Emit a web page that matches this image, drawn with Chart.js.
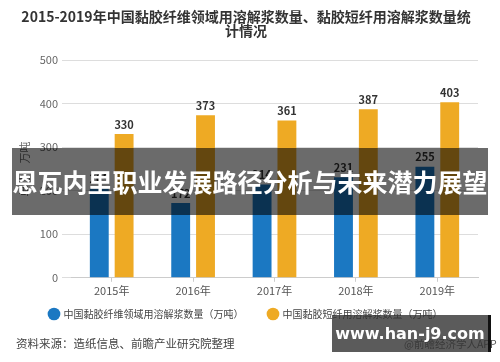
<!DOCTYPE html>
<html lang="zh">
<head>
  <meta charset="UTF-8" />
  <title>2015-2019年中国黏胶纤维领域用溶解浆数量</title>
  <script src="https://cdn.jsdelivr.net/npm/chart.js"></script>
  <style>
    body { margin: 0; background: #fff; font-family: "Noto Sans CJK SC", sans-serif; }
    .wrap { position: relative; width: 500px; height: 362px; overflow: hidden; }
    canvas { position: absolute; left: 0; top: 0; }
    .source { position: absolute; left: 16px; top: 335px; font-size: 11.5px; color: #444; }
    .app { position: absolute; left: 404px; top: 336px; font-size: 10.5px; color: #555; }
    .banner { position: absolute; left: 12px; top: 148px; width: 476px; height: 67px;
      background: rgba(0,0,0,0.58); color: #fff; font-weight: bold; font-size: 25px;
      line-height: 67px; text-align: center; white-space: nowrap; }
    .mark { position: absolute; left: 332px; top: 315px; width: 156px; height: 37px;
      background: rgba(50,50,50,0.8); border-right: 3px solid #111; color: #fff;
      font-family: "DejaVu Sans", sans-serif; font-weight: bold; font-size: 16px;
      line-height: 37px; text-align: center; }
  </style>
</head>
<body>
<div class="wrap">
  <canvas id="chart" width="500" height="362"></canvas>
  <div class="source">资料来源：造纸信息、前瞻产业研究院整理</div>
  <div class="app">@前瞻经济学人APP</div>
  <div class="banner">恩瓦内里职业发展路径分析与未来潜力展望</div>
  <div class="mark">www.han-j9.com</div>
</div>
<script>
  const years = ['2015年', '2016年', '2017年', '2018年', '2019年'];
  const fiberAll = [205, 172, 214, 231, 255];
  const staple = [330, 373, 361, 387, 403];
  const yTicks = [0, 100, 200, 300, 400, 500];

  const valueLabels = {
    id: 'valueLabels',
    afterDatasetsDraw(chart) {
      const ctx = chart.ctx;
      ctx.save();
      ctx.font = 'bold 11px "Noto Sans CJK SC"';
      ctx.fillStyle = '#333';
      ctx.textAlign = 'center';
      ctx.textBaseline = 'bottom';
      chart.data.datasets.forEach((ds, i) => {
        chart.getDatasetMeta(i).data.forEach((bar, j) => {
          ctx.fillText(ds.data[j], bar.x, bar.y - 4);
        });
      });
      ctx.restore();
    }
  };

  new Chart(document.getElementById('chart'), {
    type: 'bar',
    data: {
      labels: years,
      datasets: [
        // trailing ideographic spaces widen the gap between the two legend items
        { label: '中国黏胶纤维领域用溶解浆数量（万吨）\u3000\u3000', data: fiberAll, backgroundColor: '#1b78c2' },
        { label: '中国黏胶短纤用溶解浆数量（万吨）', data: staple, backgroundColor: '#eeaa24' }
      ]
    },
    options: {
      responsive: false,
      animation: false,
      categoryPercentage: 0.61,
      barPercentage: 0.76,
      layout: { padding: { left: 14, right: 22, top: 6, bottom: 33 } },
      plugins: {
        title: {
          display: true,
          text: ['2015-2019年中国黏胶纤维领域用溶解浆数量、黏胶短纤用溶解浆数量统', '计情况'],
          font: { family: 'Noto Sans CJK SC', size: 14, weight: 'bold', lineHeight: 1.0 },
          color: '#333',
          padding: { top: 4, bottom: 22 }
        },
        legend: {
          position: 'bottom',
          labels: {
            usePointStyle: true, pointStyle: 'circle', boxWidth: 9, boxHeight: 9,
            font: { family: 'Noto Sans CJK SC', size: 10 }, color: '#444', padding: 10
          }
        },
        tooltip: { enabled: false }
      },
      scales: {
        x: {
          grid: { display: true, drawOnChartArea: false, offset: false, tickLength: 4, color: '#ccc' },
          border: { color: '#ccc' },
          ticks: { font: { family: 'Noto Sans CJK SC', size: 11 }, color: '#555', padding: 2 }
        },
        y: {
          min: 0, max: 500,
          afterBuildTicks(axis) { axis.ticks = yTicks.map(v => ({ value: v })); },
          afterFit(axis) { axis.width = 57; },
          grid: { color: '#ddd', tickLength: 9 },
          border: { display: false },
          ticks: { font: { family: 'Noto Sans CJK SC', size: 11 }, color: '#666', padding: 4 },
          title: { display: true, text: '单位：万吨', font: { family: 'Noto Sans CJK SC', size: 11 }, color: '#666' }
        }
      }
    },
    plugins: [valueLabels]
  });
</script>
</body>
</html>
